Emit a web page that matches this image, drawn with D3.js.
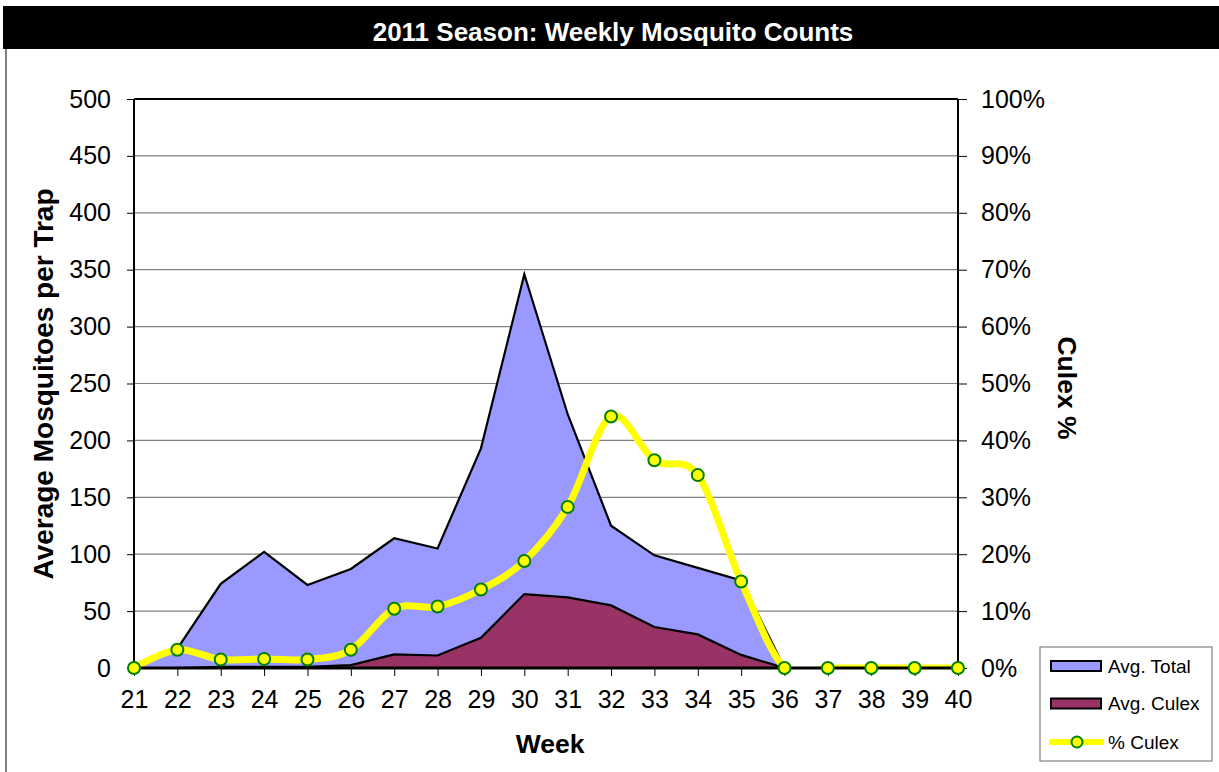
<!DOCTYPE html>
<html>
<head>
<meta charset="utf-8">
<script src="https://cdn.jsdelivr.net/npm/d3@7"></script>
<style>
  html, body { margin: 0; padding: 0; background: #fff; }
  svg { display: block; }
  text { font-family: "Liberation Sans", Arial, sans-serif; }
</style>
</head>
<body>
<svg id="chart" width="1219" height="772"></svg>
<script>
// ---- Data ----
const weeks = [21,22,23,24,25,26,27,28,29,30,31,32,33,34,35,36,37,38,39,40];
const avgTotal = [0,17,74,102,73,87,114,105,193,346,223,125,99,88,77,0,0,0,0,0];
const avgCulex = [0,0,1,1,1,2.5,12,11,26.5,65,62,55,36,29.5,11.5,0,0,0,0,0];
const pctCulex = [0,3.2,1.5,1.6,1.5,3.2,10.4,10.8,13.8,18.8,28.3,44.2,36.5,33.9,15.2,0,0,0,0,0];
const leftTicks = [0,50,100,150,200,250,300,350,400,450,500];
const rightTicks = [0,10,20,30,40,50,60,70,80,90,100];
const seriesNames = ["Avg. Total", "Avg. Culex", "% Culex"];

const svg = d3.select("#chart");
const W = 1219, H = 772;
const m = {left: 134, right: 958, top: 99, bottom: 668};
const FONT = "'Liberation Sans', Arial, sans-serif";

// outer frame
svg.append("line").attr("x1", 6).attr("x2", 6).attr("y1", 49).attr("y2", H)
  .attr("stroke", "#808080").attr("stroke-width", 2);

// title bar
svg.append("rect").attr("x", 3).attr("y", 6).attr("width", W - 3).attr("height", 43).attr("fill", "#000");
svg.append("text").attr("x", 613).attr("y", 41).attr("text-anchor", "middle")
  .attr("fill", "#fff").attr("font-weight", "bold").attr("font-size", 26)
  .text("2011 Season: Weekly Mosquito Counts");

const x = d3.scaleLinear().domain([21, 40]).range([m.left, m.right]);
const y = d3.scaleLinear().domain([0, 500]).range([m.bottom, m.top]);
const y2 = d3.scaleLinear().domain([0, 100]).range([m.bottom, m.top]);

// gridlines
svg.append("g").selectAll("line").data(leftTicks.slice(1)).join("line")
  .attr("x1", m.left).attr("x2", m.right)
  .attr("y1", d => y(d)).attr("y2", d => y(d))
  .attr("stroke", "#808080").attr("stroke-width", 1.2);

// left axis
const gL = svg.append("g").attr("transform", `translate(${m.left},0)`)
  .call(d3.axisLeft(y).tickValues(leftTicks).tickSize(7).tickPadding(16).tickFormat(d3.format("d")));
gL.select(".domain").remove();
gL.selectAll(".tick line").attr("stroke", "#000");
gL.selectAll("text").attr("font-size", 25).attr("fill", "#000").style("font-family", FONT);

// right axis
const gR = svg.append("g").attr("transform", `translate(${m.right},0)`)
  .call(d3.axisRight(y2).tickValues(rightTicks).tickSize(9).tickPadding(14).tickFormat(d => d + "%"));
gR.select(".domain").remove();
gR.selectAll(".tick line").attr("stroke", "#000");
gR.selectAll("text").attr("font-size", 25).attr("fill", "#000").style("font-family", FONT);

// bottom axis
const gB = svg.append("g").attr("transform", `translate(0,${m.bottom})`)
  .call(d3.axisBottom(x).tickValues(weeks).tickSize(8).tickPadding(14).tickFormat(d3.format("d")));
gB.select(".domain").remove();
gB.selectAll(".tick line").attr("stroke", "#000");
gB.selectAll("text").attr("font-size", 25).attr("fill", "#000").style("font-family", FONT);

// clip
svg.append("clipPath").attr("id", "plotclip").append("rect")
  .attr("x", m.left).attr("y", m.top).attr("width", m.right - m.left).attr("height", m.bottom - m.top);

const plot = svg.append("g").attr("clip-path", "url(#plotclip)");

const areaT = d3.area().x((d, i) => x(weeks[i])).y0(y(0)).y1(d => y(d));
const lineT = d3.line().x((d, i) => x(weeks[i])).y(d => y(d));

plot.append("path").datum(avgTotal).attr("d", areaT).attr("fill", "#9999FF");
plot.append("path").datum(avgTotal).attr("d", lineT).attr("fill", "none").attr("stroke", "#000").attr("stroke-width", 2.2);
plot.append("path").datum(avgCulex).attr("d", areaT).attr("fill", "#993366");
plot.append("path").datum(avgCulex).attr("d", lineT).attr("fill", "none").attr("stroke", "#000").attr("stroke-width", 2.2);

// axis frame lines
svg.append("line").attr("x1", m.left).attr("x2", m.right).attr("y1", m.bottom).attr("y2", m.bottom).attr("stroke", "#000").attr("stroke-width", 3);
svg.append("line").attr("x1", m.left).attr("x2", m.right).attr("y1", m.top).attr("y2", m.top).attr("stroke", "#000").attr("stroke-width", 2);
svg.append("line").attr("x1", m.left).attr("x2", m.left).attr("y1", m.top).attr("y2", m.bottom).attr("stroke", "#000").attr("stroke-width", 2);
svg.append("line").attr("x1", m.right).attr("x2", m.right).attr("y1", m.top).attr("y2", m.bottom).attr("stroke", "#000").attr("stroke-width", 2);

// % culex smoothed line
const lineP = d3.line().x((d, i) => x(weeks[i])).y(d => y2(d)).curve(d3.curveCatmullRom.alpha(0));
plot.append("path").datum(pctCulex).attr("d", lineP).attr("fill", "none")
  .attr("stroke", "#FFFF00").attr("stroke-width", 7).attr("stroke-linejoin", "round");

svg.append("g").selectAll("circle").data(pctCulex).join("circle")
  .attr("cx", (d, i) => x(weeks[i])).attr("cy", d => y2(d)).attr("r", 6)
  .attr("fill", "#FFFF00").attr("stroke", "#008000").attr("stroke-width", 2);

// axis titles
svg.append("text").attr("transform", "translate(53,384) rotate(-90)")
  .attr("text-anchor", "middle").attr("font-weight", "bold").attr("font-size", 28)
  .text("Average Mosquitoes per Trap");
svg.append("text").attr("transform", "translate(1058,388) rotate(90)")
  .attr("text-anchor", "middle").attr("font-weight", "bold").attr("font-size", 26.5)
  .text("Culex %");
svg.append("text").attr("x", 550).attr("y", 753).attr("text-anchor", "middle")
  .attr("font-weight", "bold").attr("font-size", 26.5).text("Week");

// legend
const lg = svg.append("g");
lg.append("rect").attr("x", 1040).attr("y", 647).attr("width", 172).attr("height", 114)
  .attr("fill", "#fff").attr("stroke", "#808080").attr("stroke-width", 1.2);
const ly = [666, 703.5, 742];
lg.append("rect").attr("x", 1051).attr("y", ly[0] - 5).attr("width", 50).attr("height", 10)
  .attr("fill", "#9999FF").attr("stroke", "#000").attr("stroke-width", 2);
lg.append("rect").attr("x", 1051).attr("y", ly[1] - 5).attr("width", 50).attr("height", 10)
  .attr("fill", "#993366").attr("stroke", "#000").attr("stroke-width", 2);
lg.append("line").attr("x1", 1049).attr("x2", 1104).attr("y1", ly[2]).attr("y2", ly[2])
  .attr("stroke", "#FFFF00").attr("stroke-width", 6);
lg.append("circle").attr("cx", 1077).attr("cy", ly[2]).attr("r", 5.5)
  .attr("fill", "#FFFF00").attr("stroke", "#008000").attr("stroke-width", 2);
lg.selectAll("text.lt").data(seriesNames).join("text").attr("class", "lt")
  .attr("x", 1108).attr("y", (d, i) => ly[i] + 6.5).attr("font-size", 19).attr("fill", "#000")
  .text(d => d);
</script>
</body>
</html>
